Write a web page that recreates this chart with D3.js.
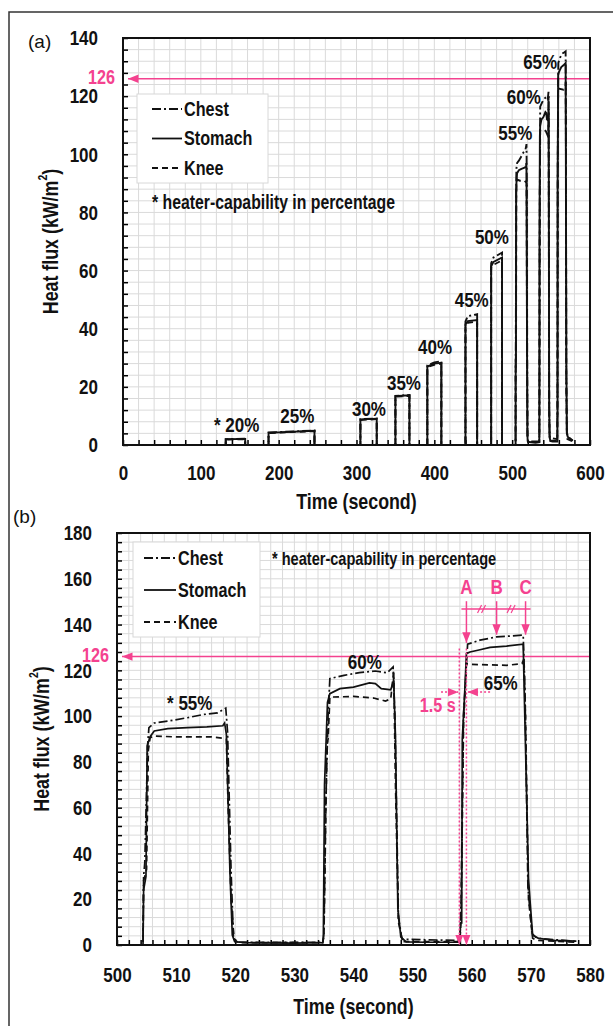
<!DOCTYPE html>
<html>
<head>
<meta charset="utf-8">
<script src="https://cdn.jsdelivr.net/npm/d3@7"></script>
<style>
  body { margin: 0; background: #fff; }
  svg { display: block; }
</style>
</head>
<body>
<svg id="chart"></svg>
<script>
// ---- data ----
// panel (a): whole test, 20% .. 65% heater capability
const timeTicksA = [0, 100, 200, 300, 400, 500, 600];
const fluxTicksA = [0, 20, 40, 60, 80, 100, 120, 140];
// panel (b): zoom on the last three pulses
const timeTicksB = [500, 510, 520, 530, 540, 550, 560, 570, 580];
const fluxTicksB = [0, 20, 40, 60, 80, 100, 120, 140, 160, 180];

const limitFlux = 126;
const seriesNames = ["Chest", "Stomach", "Knee"];

// early pulses (before 500 s), [time, kW/m2]
const chestEarly = [[0,0],[132,0],[132,2],[157,2.2],[157,0],[187,0],[187,4.3],[246,5],[246,0],[305,0],[305,8.9],[326,9.1],[326,0],
  [350,0],[350,16.9],[368,17.2],[368,0],[391,0],[391,27.4],[400,28.4],[409,28.8],[409,0],[440,0],[440,42.5],[443,44.3],[455,45],[455,0],
  [473,0],[473,62.5],[476,64.5],[487,66.2],[487,0],[500,0]];
const stomachEarly = [[0,0],[132,0],[132,2],[157,2.1],[157,0],[187,0],[187,4.2],[246,4.9],[246,0],[305,0],[305,8.8],[326,9],[326,0],
  [350,0],[350,16.8],[368,17.1],[368,0],[391,0],[391,27],[400,28],[409,28.3],[409,0],[440,0],[440,41.5],[443,42.6],[455,43],[455,0],
  [473,0],[473,61.5],[476,63],[487,64.5],[487,0],[500,0]];
const kneeEarly = [[0,0],[132,0],[132,1.9],[157,2],[157,0],[187,0],[187,4.1],[246,4.8],[246,0],[305,0],[305,8.6],[326,8.9],[326,0],
  [350,0],[350,16.6],[368,16.9],[368,0],[391,0],[391,26.8],[400,27.6],[409,28],[409,0],[440,0],[440,41],[443,42],[455,42.5],[455,0],
  [473,0],[473,61],[476,62],[487,63.5],[487,0],[500,0]];

// 55%, 60%, 65% pulses (500 .. 578 s)
const chestLate = [[500,0],[504.4,0],[504.5,30],[504.7,36],[505.2,88],[505.4,95],[506.3,97],[508.6,97.8],[511.9,99.3],[514.6,100.7],
  [517,101.4],[518,102.9],[518.4,103.5],[518.7,93],[519.3,32],[519.7,3],[520.5,1.2],[534.8,1.2],[535,5],[535.3,60],[535.7,100],
  [536,116.4],[538.4,117.8],[541,119],[543.7,119.7],[545.7,118.9],[546.7,121.5],[547,100],[547.6,12],[548.2,2.5],[558,2],
  [558.2,20],[558.6,100],[559.3,131.4],[561.4,133.2],[564.2,134.6],[566.6,135],[568.7,135.4],[569,112],[569.5,25],[570.2,5],
  [571,3],[578,1.5]];
const stomachLate = [[500,0],[504.4,0],[504.5,24],[504.9,30],[505.1,87],[505.6,91],[506.3,93.5],[508.6,94.5],[511.9,95],[515.2,95.3],
  [517.9,95.8],[518.2,97],[518.5,92],[519.1,32],[519.5,4.3],[519.9,1.4],[522,1],[530,0.8],[534.8,1],[534.9,3],[535.1,70],
  [535.6,106],[536,109.8],[537.7,112],[540,112.7],[542.7,114.5],[543.7,114.2],[544.7,112],[546.3,111.5],[546.8,115.6],[547.1,91],
  [547.5,16],[548,3.6],[548.9,1.4],[552,1.2],[558,1.2],[558.1,9.7],[558.3,9.7],[558.4,90],[558.8,110],[559.1,127.3],[559.7,128],
  [561.4,129],[563.1,130],[565.9,130.6],[568.7,131.4],[568.9,108],[569.6,29],[569.9,18],[570.3,4.3],[571.3,2.9],[574,2],[577.7,1.7]];
const kneeLate = [[500,0],[504.4,0],[504.5,28],[505,33],[505.3,85],[505.6,90.6],[506.3,91.3],[510,90.9],[516,90.9],[518,90.3],
  [518.5,90],[518.8,60],[519.3,20],[519.8,2.5],[520.5,1],[534.8,1],[535,4],[535.5,87],[535.7,90],[536,108.3],[540,108.6],
  [543.4,107.9],[545.4,106.6],[546.3,107.5],[546.8,120],[547.1,70],[547.6,10],[548.3,1.5],[558,1.5],[558.2,12],[558.6,95],
  [559.1,122.9],[560,122.6],[565.9,122.2],[568.5,122.9],[568.8,124.8],[569.1,100],[569.6,20],[570.3,3],[571,2],[578,1.2]];

// heater-capability labels: [text, time, flux]
const pctLabelsA = [["* 20%",146,6.9],["25%",224,10],["30%",316,12.4],["35%",361,21.3],["40%",401,33.7],
  ["45%",448,49.9],["50%",474,71.6],["55%",504,107.3],["60%",515,119.7],["65%",536,131.8]];
const pctLabelsB = [["* 55%",512.3,105.7],["60%",541.9,123.6],["65%",564.9,114.5]];

// A / B / C marks on the 65% pulse (time) and onset line
const markNames = ["A", "B", "C"];
const markTimes = [559.1, 564.2, 569.1];
const onsetTime = 557.9;

// ---- drawing ----
const PINK = "#f4428f";
const FONT = "'Liberation Sans Narrow', 'Arial Narrow', 'Liberation Sans', Arial, sans-serif";
const NARROW = 0.81; // no narrow font installed, so bold text is squeezed
const dashes = { Chest: "9,3,2,3", Stomach: null, Knee: "6,4" };

const svg = d3.select("#chart").attr("width", 613).attr("height", 1026)
  .style("font-family", FONT);

// outer figure frame (only top and left are in the picture)
svg.append("path").attr("d", "M9,1026V12H613")
  .attr("fill", "none").attr("stroke", "#333").attr("stroke-width", 1.5);

function arrowMarker(id) {
  svg.append("defs").append("marker")
    .attr("id", id).attr("viewBox", "0 0 10 10")
    .attr("refX", 10).attr("refY", 5)
    .attr("markerWidth", 7).attr("markerHeight", 7)
    .attr("orient", "auto-start-reverse")
    .append("path").attr("d", "M0,1L10,5L0,9Z").attr("fill", PINK);
}
arrowMarker("pinkArrow");

function range(a, b, s) { return d3.range(a, b + s / 2, s); }

function drawPanel(cfg) {
  const x = d3.scaleLinear().domain(cfg.xDomain).range([cfg.left, cfg.right]);
  const y = d3.scaleLinear().domain(cfg.yDomain).range([cfg.bottom, cfg.top]);
  const g = svg.append("g");

  // grid
  g.append("g").selectAll("line").data(range(cfg.xDomain[0], cfg.xDomain[1], cfg.xMinor)).join("line")
    .attr("x1", d => x(d)).attr("x2", d => x(d)).attr("y1", cfg.top).attr("y2", cfg.bottom)
    .attr("stroke", "#dadada").attr("stroke-width", 1);
  g.append("g").selectAll("line").data(range(cfg.yDomain[0], cfg.yDomain[1], cfg.yMinor)).join("line")
    .attr("y1", d => y(d)).attr("y2", d => y(d)).attr("x1", cfg.left).attr("x2", cfg.right)
    .attr("stroke", "#dadada").attr("stroke-width", 1);

  // inside minor ticks
  g.append("g").attr("transform", `translate(${cfg.left},0)`)
    .call(d3.axisLeft(y).tickValues(range(cfg.yDomain[0], cfg.yDomain[1], cfg.yMinor)).tickSize(-5).tickFormat(""))
    .call(a => a.select(".domain").remove())
    .selectAll("line").attr("stroke-width", 1.5);
  g.append("g").attr("transform", `translate(0,${cfg.bottom})`)
    .call(d3.axisBottom(x).tickValues(range(cfg.xDomain[0], cfg.xDomain[1], cfg.xMinor)).tickSize(-5).tickFormat(""))
    .call(a => a.select(".domain").remove())
    .selectAll("line").attr("stroke-width", 1.5);

  // tick labels
  g.append("g").attr("transform", `translate(${cfg.left},0)`)
    .call(d3.axisLeft(y).tickValues(cfg.yTicks).tickSize(0).tickPadding(25))
    .call(a => a.select(".domain").remove())
    .selectAll("text").attr("font-family", FONT).attr("font-size", 21).attr("font-weight", "bold").attr("fill", "#111");
  g.append("g").attr("transform", `translate(0,${cfg.bottom})`)
    .call(d3.axisBottom(x).tickValues(cfg.xTicks).tickSize(0).tickPadding(cfg.xPad))
    .call(a => a.select(".domain").remove())
    .selectAll("text").attr("font-family", FONT).attr("font-size", 21).attr("font-weight", "bold").attr("fill", "#111");

  // 126 kW/m2 line
  g.append("line")
    .attr("x1", cfg.right).attr("x2", cfg.left + 5)
    .attr("y1", y(limitFlux)).attr("y2", y(limitFlux))
    .attr("stroke", PINK).attr("stroke-width", 1.5).attr("marker-end", "url(#pinkArrow)");
  g.append("text").attr("x", cfg.left - 8).attr("y", y(limitFlux) - 1)
    .attr("text-anchor", "end").attr("dominant-baseline", "central")
    .attr("font-size", 20).attr("font-weight", "bold").attr("fill", PINK).text(limitFlux);

  // series
  const line = d3.line().x(d => x(d[0])).y(d => y(d[1]));
  seriesNames.forEach((name, i) => {
    g.append("path").datum(cfg.series[i])
      .attr("d", line).attr("fill", "none").attr("stroke", "#111")
      .attr("stroke-width", cfg.lineWidth)
      .attr("stroke-dasharray", dashes[name]);
  });

  // percentage labels
  g.append("g").selectAll("text").data(cfg.pctLabels).join("text")
    .attr("x", d => x(d[1])).attr("y", d => y(d[2]))
    .attr("text-anchor", "middle").attr("dominant-baseline", "central")
    .attr("font-size", 21).attr("font-weight", "bold").attr("fill", "#111")
    .text(d => d[0]);

  // plot border
  g.append("rect").attr("x", cfg.left).attr("y", cfg.top)
    .attr("width", cfg.right - cfg.left).attr("height", cfg.bottom - cfg.top)
    .attr("fill", "none").attr("stroke", "#111").attr("stroke-width", 2);

  // axis titles
  g.append("text").attr("x", (cfg.left + cfg.right) / 2).attr("y", cfg.xTitleY)
    .attr("text-anchor", "middle").attr("dominant-baseline", "central")
    .attr("font-size", 22).attr("font-weight", "bold").attr("fill", "#111").text("Time (second)");
  const yt = g.append("text")
    .attr("transform", `translate(${cfg.yTitleX},${(cfg.top + cfg.bottom) / 2}) rotate(-90)`)
    .attr("text-anchor", "middle").attr("dominant-baseline", "central")
    .attr("font-size", 22).attr("font-weight", "bold").attr("fill", "#111");
  yt.append("tspan").text("Heat flux (kW/m");
  yt.append("tspan").attr("font-size", 13).attr("dy", -7).text("2");
  yt.append("tspan").attr("dy", 7).text(")");

  // panel letter
  g.append("text").attr("x", cfg.letterX).attr("y", cfg.letterY)
    .attr("dominant-baseline", "central").attr("font-family", "'Liberation Sans', Arial, sans-serif")
    .attr("font-size", 19).attr("fill", "#111").text(cfg.letter);

  // legend
  const L = cfg.legend;
  g.append("rect").attr("x", L.x).attr("y", L.y).attr("width", L.w).attr("height", L.h)
    .attr("fill", "#fff").attr("stroke", "#d8d8d8").attr("stroke-width", 1);
  seriesNames.forEach((name, i) => {
    const cy = L.y + L.first + i * L.step;
    g.append("line").attr("x1", L.x + L.pad).attr("x2", L.x + L.pad + L.len)
      .attr("y1", cy).attr("y2", cy).attr("stroke", "#111").attr("stroke-width", 1.8)
      .attr("stroke-dasharray", dashes[name]);
    g.append("text").attr("x", L.x + L.pad + L.len + 2).attr("y", cy)
      .attr("dominant-baseline", "central").attr("font-size", 20).attr("font-weight", "bold")
      .attr("fill", "#111").text(name);
  });
  g.append("text").attr("x", cfg.note.x).attr("y", cfg.note.y)
    .attr("dominant-baseline", "central").attr("font-size", cfg.note.size).attr("font-weight", "bold")
    .attr("fill", "#111").text("* heater-capability in percentage");

  return { x, y, g };
}

// panel (a)
drawPanel({
  left: 123, right: 590, top: 38, bottom: 445,
  xDomain: [0, 600], yDomain: [0, 140], xMinor: 20, yMinor: 4,
  xTicks: timeTicksA, yTicks: fluxTicksA, xPad: 20,
  series: [chestEarly.concat(chestLate), stomachEarly.concat(stomachLate), kneeEarly.concat(kneeLate)],
  lineWidth: 1.9, pctLabels: pctLabelsA,
  xTitleY: 501, yTitleX: 50, letter: "(a)", letterX: 28, letterY: 41,
  legend: { x: 137, y: 94, w: 131, h: 89, first: 15, step: 29.5, pad: 15, len: 30 },
  note: { x: 152, y: 202, size: 19.5 }
});

// panel (b)
const pb = drawPanel({
  left: 117, right: 590, top: 533, bottom: 945,
  xDomain: [500, 580], yDomain: [0, 180], xMinor: 2, yMinor: 4,
  xTicks: timeTicksB, yTicks: fluxTicksB, xPad: 22,
  series: [chestLate, stomachLate, kneeLate],
  lineWidth: 1.7, pctLabels: pctLabelsB,
  xTitleY: 1006, yTitleX: 41, letter: "(b)", letterX: 13, letterY: 516,
  legend: { x: 133, y: 542, w: 127, h: 95, first: 16, step: 32, pad: 11, len: 32 },
  note: { x: 272, y: 558, size: 18 }
});

// A / B / C annotation on panel (b)
(function () {
  const x = pb.x, y = pb.y, g = pb.g;
  const barY = y(146.8);
  g.append("line").attr("x1", x(markTimes[0]) - 5).attr("x2", x(markTimes[2]) + 5)
    .attr("y1", barY).attr("y2", barY).attr("stroke", PINK).attr("stroke-width", 1.5);
  const tips = [132, 135.6, 135.6];
  markNames.forEach((m, i) => {
    g.append("line").attr("x1", x(markTimes[i])).attr("x2", x(markTimes[i]))
      .attr("y1", y(150.2)).attr("y2", y(tips[i]))
      .attr("stroke", PINK).attr("stroke-width", 1.5).attr("marker-end", "url(#pinkArrow)");
    g.append("text").attr("x", x(markTimes[i])).attr("y", y(156.5))
      .attr("text-anchor", "middle").attr("dominant-baseline", "central")
      .attr("font-size", 21).attr("font-weight", "bold").attr("fill", PINK).text(m);
  });
  // "//" breaks between marks
  [0, 1].forEach(i => {
    const mx = (x(markTimes[i]) + x(markTimes[i + 1])) / 2;
    [-2, 2].forEach(o => {
      g.append("line").attr("x1", mx + o - 2).attr("x2", mx + o + 2)
        .attr("y1", barY + 4).attr("y2", barY - 4).attr("stroke", PINK).attr("stroke-width", 1.2);
    });
  });
  // dotted verticals: onset and A
  [onsetTime, markTimes[0]].forEach(t => {
    g.append("line").attr("x1", x(t)).attr("x2", x(t)).attr("y1", y(129.5)).attr("y2", y(0))
      .attr("stroke", PINK).attr("stroke-width", 1.5).attr("stroke-dasharray", "2,2")
      .attr("marker-end", "url(#pinkArrow)");
  });
  // 1.5 s dotted arrows
  const ay = y(110.5);
  g.append("line").attr("x1", x(554.8)).attr("x2", x(onsetTime) - 1).attr("y1", ay).attr("y2", ay)
    .attr("stroke", PINK).attr("stroke-width", 1.5).attr("stroke-dasharray", "2,2").attr("marker-end", "url(#pinkArrow)");
  g.append("line").attr("x1", x(563.1)).attr("x2", x(markTimes[0]) + 1).attr("y1", ay).attr("y2", ay)
    .attr("stroke", PINK).attr("stroke-width", 1.5).attr("stroke-dasharray", "2,2").attr("marker-end", "url(#pinkArrow)");
  g.append("text").attr("x", x(557.3)).attr("y", y(104.8))
    .attr("text-anchor", "end").attr("dominant-baseline", "central")
    .attr("font-size", 20).attr("font-weight", "bold").attr("fill", PINK).text("1.5 s");
})();

// squeeze bold text horizontally to look like the narrow bold face of the original
svg.selectAll("text")
  .filter(function () { return this.getAttribute("font-weight") === "bold"; })
  .each(function () {
    const t = d3.select(this);
    const x0 = +t.attr("x") || 0;
    t.attr("x", x0 / NARROW);
    t.attr("transform", (t.attr("transform") || "") + ` scale(${NARROW},1)`);
  });
</script>
</body>
</html>
